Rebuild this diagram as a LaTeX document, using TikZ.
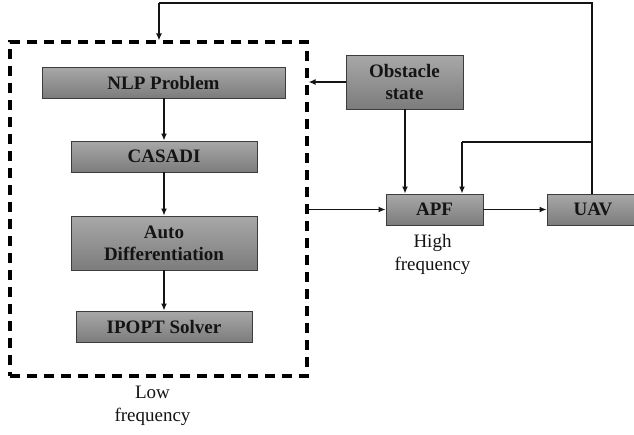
\documentclass[tikz,border=0pt]{standalone}
\usepackage{fontspec}
\setmainfont{Liberation Serif}
\usetikzlibrary{arrows.meta}
\definecolor{boxtop}{RGB}{168,168,168}
\definecolor{boxbot}{RGB}{124,124,124}
\definecolor{boxedge}{RGB}{60,60,60}
\definecolor{ink}{RGB}{20,20,20}
\begin{document}
\begin{tikzpicture}[x=1pt,y=-1pt,
  block/.style={draw=boxedge, line width=0.9pt, top color=boxtop, bottom color=boxbot,
    text=ink, font=\fontsize{19}{22}\selectfont\bfseries, align=center,
    inner sep=0pt, anchor=center},
  note/.style={text=ink, font=\fontsize{19}{23}\selectfont, align=center, inner sep=0pt},
  flow/.style={draw=ink, line width=1.8pt, -{Latex[length=7pt,width=6pt]}},
  wire/.style={draw=ink, line width=1.8pt}]
\useasboundingbox (0,0) rectangle (634,434);
\fill[white] (0,0) rectangle (634,434);

% low-frequency optimisation stage
\node[draw=black, line width=3.2pt, dash pattern=on 10pt off 7pt,
  minimum width=297pt, minimum height=334pt, inner sep=0pt] (low) at (158.5,209) {};
\node[block, minimum width=243pt, minimum height=31pt] (nlp) at (163.5,82.5) {NLP Problem};
\node[block, minimum width=186pt, minimum height=31pt] (cas) at (164,156.5) {CASADI};
\node[block, minimum width=186pt, minimum height=54pt] (ad) at (164,243) {Auto\\Differentiation};
\node[block, minimum width=176pt, minimum height=31pt] (ipopt) at (164,326.5) {IPOPT Solver};
\node[note] (lowlbl) at (152.5,406) {Low\\frequency};

% high-frequency reactive stage
\node[block, minimum width=117pt, minimum height=54pt] (obs) at (404.5,82) {Obstacle\\state};
\node[block, minimum width=97pt, minimum height=31pt] (apf) at (434.5,209.5) {APF};
\node[block, minimum width=92pt, minimum height=31pt] (uav) at (593,209.5) {UAV};
\node[note] (highlbl) at (432.5,254) {High\\frequency};

\coordinate (topR) at (592,3);
\coordinate (topL) at (159,3);
\coordinate (midR) at (592,142);
\coordinate (midL) at (462,142);

% connectors
\draw[flow] (nlp.south -| cas.north) -- (cas.north);
\draw[flow] (cas.south) -- (ad.north);
\draw[flow] (ad.south) -- (ipopt.north);
\draw[flow] (obs.west) -- (obs.west -| low.east);
\draw[flow] (405,109) -- (apf.north -| 405,0);
\draw[flow] (low.east |- apf.west) -- (apf.west);
\draw[flow] (apf.east) -- (uav.west);
\draw[wire] (uav.north -| topR) -- (topR) -- (topL);
\draw[flow] (topL) -- (topL |- low.north);
\draw[wire] (midR) -- (midL);
\draw[flow] (midL) -- (midL |- apf.north);
\end{tikzpicture}
\end{document}
